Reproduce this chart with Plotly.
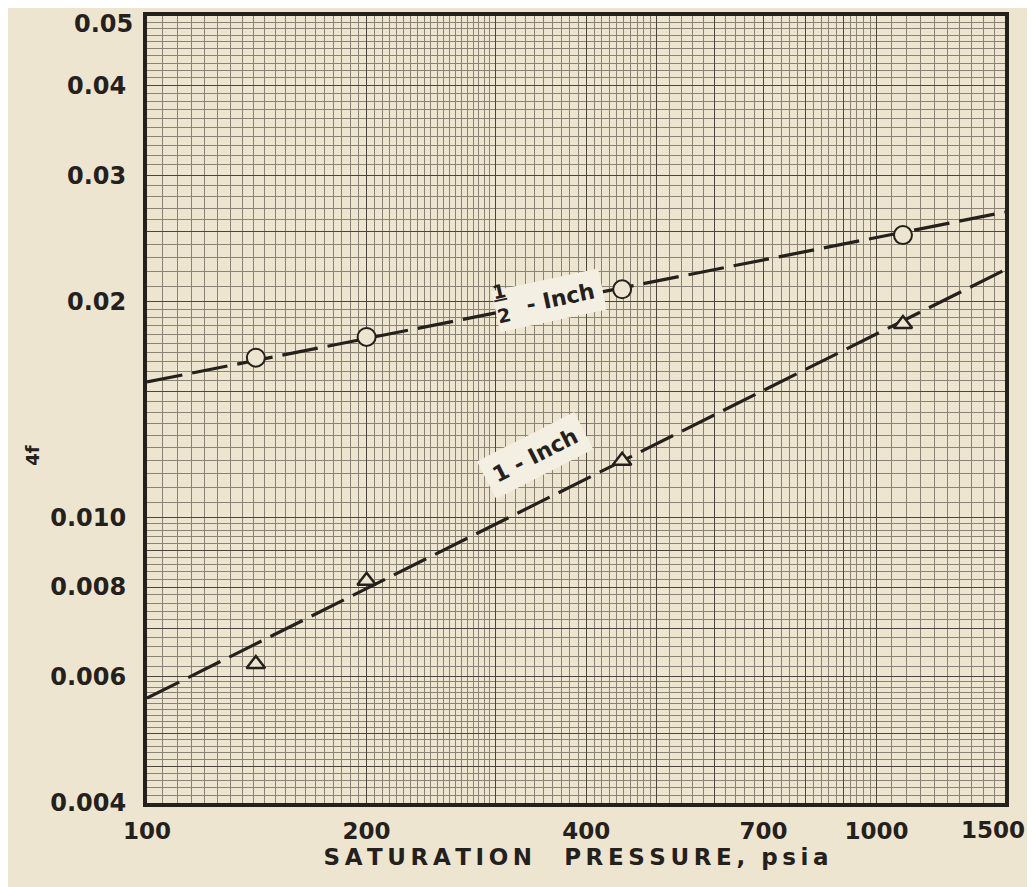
import numpy as np
import plotly.graph_objects as go

# ---- data ----
pressure = [141, 200, 448, 1087]                    # psia
half_inch_4f = [0.0167, 0.01785, 0.0208, 0.02475]   # circles
one_inch_4f = [0.00625, 0.00816, 0.0120, 0.01861]   # triangles

fit_pressure = [100, 1500]
half_inch_fit = [0.01545, 0.02665]
one_inch_fit = [0.0056, 0.02214]

x_labels = {100: "100", 200: "200", 400: "400", 700: "700", 1000: "1000"}
x_end_label = "1500"
y_labels = {0.004: "0.004", 0.006: "0.006", 0.008: "0.008", 0.010: "0.010",
            0.02: "0.02", 0.03: "0.03", 0.04: "0.04"}
y_top_label = "0.05"

x_major = [100, 200, 300, 400, 500, 600, 700, 800, 900, 1000, 1500]
y_major = [0.004, 0.0045, 0.005, 0.006, 0.007, 0.008, 0.009, 0.010, 0.015,
           0.02, 0.025, 0.03, 0.04, 0.05]

# graph-paper rulings
x_minor = sorted(set(np.round(np.concatenate([
    np.arange(100, 300, 5), np.arange(300, 500, 10),
    np.arange(500, 1000, 20), np.arange(1000, 1501, 50)]), 6).tolist()))
y_minor = sorted(set(np.round(np.concatenate([
    np.arange(0.004, 0.006, 0.0001), np.arange(0.006, 0.010, 0.0002),
    np.arange(0.010, 0.020, 0.0005), np.arange(0.020, 0.0501, 0.001)]), 6).tolist()))

PAPER = "#eee5d1"
INK = "#24201b"
FONT = "DejaVu Sans"

fig = go.Figure()

dash = "36px,10px"
fig.add_trace(go.Scatter(x=fit_pressure, y=half_inch_fit, mode="lines",
                         line=dict(color=INK, width=3.2, dash=dash),
                         hoverinfo="skip", showlegend=False))
fig.add_trace(go.Scatter(x=fit_pressure, y=one_inch_fit, mode="lines",
                         line=dict(color=INK, width=3.2, dash=dash),
                         hoverinfo="skip", showlegend=False))
fig.add_trace(go.Scatter(x=pressure, y=half_inch_4f, mode="markers",
                         marker=dict(symbol="circle", size=18, color=PAPER,
                                     line=dict(color=INK, width=2)),
                         name="1/2-Inch", showlegend=False))
fig.add_trace(go.Scatter(x=pressure, y=one_inch_4f, mode="markers",
                         marker=dict(symbol="triangle-up", size=16, color=PAPER,
                                     line=dict(color=INK, width=2.5)),
                         name="1-Inch", showlegend=False))

tick_font = dict(family=FONT, size=24, color=INK, weight="bold")
xtick_font = dict(family=FONT, size=23, color=INK, weight="bold")

fig.update_xaxes(
    type="log", range=[np.log10(100), np.log10(1500) + 1e-6],
    tickmode="array", tickvals=x_major,
    ticktext=[x_labels.get(v, "") for v in x_major],
    ticks="", tickfont=xtick_font,
    ticklabelstandoff=4, ticklabeloverflow="allow",
    showgrid=True, gridcolor="#4a443c", gridwidth=1.2,
    minor=dict(tickmode="array", tickvals=x_minor, showgrid=True,
               gridcolor="#8a8275", gridwidth=0.9, ticks=""),
    showline=True, linecolor=INK, linewidth=4, mirror=True,
    zeroline=False, automargin=False,
    title=dict(text="S\u2009A\u2009T\u2009U\u2009R\u2009A\u2009T\u2009I\u2009O\u2009N\u00a0\u00a0\u00a0 "
                    "P\u2009R\u2009E\u2009S\u2009S\u2009U\u2009R\u2009E\u2009,\u00a0\u00a0p\u2009s\u2009i\u2009a",
               font=dict(family=FONT, size=23, color=INK, weight="bold"), standoff=2),
)
fig.update_yaxes(
    type="log", range=[np.log10(0.004) - 1e-6, np.log10(0.05) + 1e-6],
    tickmode="array", tickvals=y_major,
    ticktext=[y_labels.get(v, "") for v in y_major],
    ticks="", tickfont=tick_font, ticklabelstandoff=12,
    ticklabeloverflow="allow",
    showgrid=True, gridcolor="#4a443c", gridwidth=1.2,
    minor=dict(tickmode="array", tickvals=y_minor, showgrid=True,
               gridcolor="#8a8275", gridwidth=0.9, ticks=""),
    showline=True, linecolor=INK, linewidth=4, mirror=True,
    zeroline=False, automargin=False,
)

label_font = dict(family=FONT, size=22, color=INK, weight="bold")
annotations = [
    # end labels nudged inside the page like the original
    dict(xref="paper", yref="paper", x=0, y=1, xanchor="right", yanchor="middle",
         xshift=-12, yshift=-8, text=y_top_label, showarrow=False, font=tick_font),
    dict(xref="paper", yref="paper", x=1, y=0, xanchor="right", yanchor="middle",
         xshift=22, yshift=-27, text=x_end_label, showarrow=False, font=xtick_font),
    dict(xref="paper", yref="paper", x=0.468, y=0.680,
         text="\u00a0\u00a0\u00a0- Inch", textangle=-12, showarrow=False,
         font=label_font, bgcolor="#f4efe3", borderpad=8),
    dict(xref="paper", yref="paper", x=0.413, y=0.668,
         text="<u>1</u><br>2", textangle=-12, showarrow=False,
         font=dict(family=FONT, size=19, color=INK, weight="bold")),
    dict(xref="paper", yref="paper", x=0.452, y=0.442,
         text="1 - Inch", textangle=-27, showarrow=False,
         font=label_font, bgcolor="#f4efe3", borderpad=8),
    dict(xref="paper", yref="paper", x=-0.148, y=0.442,
         text="4f", textangle=-90, showarrow=False,
         font=dict(family=FONT, size=18, color=INK, weight="bold")),
]

# the page body adds an 8px offset; the figure is sized so the plot area
# lands on the reference frame (x 147..1005, y 16..803)
fig.update_layout(
    width=1027, height=879,
    margin=dict(l=139, r=30, t=8, b=84),
    paper_bgcolor=PAPER, plot_bgcolor=PAPER,
    annotations=annotations,
    showlegend=False,
)

fig.write_html("out.html")
